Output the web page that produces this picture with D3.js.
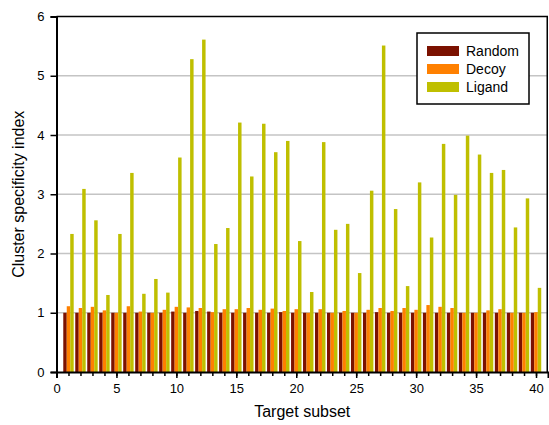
<!DOCTYPE html>
<html>
<head>
<meta charset="utf-8">
<script src="https://cdn.jsdelivr.net/npm/d3@7"></script>
<style>
  html, body { margin: 0; padding: 0; background: #fff; }
  text { font-family: Arial, "Liberation Sans", sans-serif; }
</style>
</head>
<body>
<div id="chart"></div>
<script>
'use strict';

const subsets = d3.range(1, 41);
const seriesNames = ["Random", "Decoy", "Ligand"];
const seriesColors = ["#7b1100", "#ff8000", "#bfbf00"];

const randomValues = [
    1.00, 1.00, 1.00, 1.00, 1.00, 1.00, 1.00, 1.00, 1.00, 1.02,
    1.00, 1.03, 1.02, 1.00, 1.00, 1.00, 1.00, 1.00, 1.01, 1.00,
    1.00, 1.00, 1.00, 1.00, 1.00, 1.00, 1.01, 1.00, 1.00, 1.00,
    1.00, 1.00, 1.00, 1.00, 1.00, 1.00, 1.00, 1.00, 1.00, 1.00
];
const decoyValues = [
    1.11, 1.08, 1.10, 1.04, 1.00, 1.11, 1.02, 1.00, 1.05, 1.10,
    1.09, 1.08, 1.01, 1.06, 1.06, 1.08, 1.05, 1.07, 1.03, 1.06,
    1.00, 1.06, 1.00, 1.03, 1.00, 1.05, 1.08, 1.03, 1.08, 1.05,
    1.13, 1.10, 1.08, 1.00, 1.00, 1.04, 1.06, 1.00, 1.00, 1.01
];
const ligandValues = [
    2.33, 3.09, 2.56, 1.30, 2.33, 3.36, 1.32, 1.57, 1.34, 3.62,
    5.28, 5.61, 2.16, 2.43, 4.21, 3.30, 4.19, 3.71, 3.90, 2.21,
    1.35, 3.88, 2.40, 2.50, 1.67, 3.06, 5.51, 2.75, 1.45, 3.20,
    2.27, 3.85, 2.99, 3.99, 3.67, 3.36, 3.41, 2.44, 2.93, 1.42
];
const xTicks = [0, 5, 10, 15, 20, 25, 30, 35, 40];
const yTicks = [0, 1, 2, 3, 4, 5, 6];

const width = 549;
const height = 425;
const margin = { top: 16.5, right: 1, bottom: 53, left: 56.5 };

const svg = d3.select("#chart")
    .append("svg")
    .attr("width", width)
    .attr("height", height);

const x = d3.scaleLinear().domain([0, 41]).range([margin.left, width - margin.right]);
const y = d3.scaleLinear().domain([0, 6]).range([height - margin.bottom, margin.top]);

// grid lines
svg.append("g")
    .selectAll("line")
    .data(yTicks.filter(d => d > 0 && d < 6))
    .join("line")
    .attr("x1", margin.left)
    .attr("x2", width - margin.right)
    .attr("y1", d => y(d))
    .attr("y2", d => y(d))
    .attr("stroke", "#c4c4c4")
    .attr("stroke-width", 1.5);

// bars
const allSeries = [randomValues, decoyValues, ligandValues];
const barW = 0.29;
allSeries.forEach((values, s) => {
    svg.append("g")
        .attr("fill", seriesColors[s])
        .selectAll("rect")
        .data(values)
        .join("rect")
        .attr("x", (d, i) => x(subsets[i] - 0.435 + s * barW))
        .attr("width", x(barW) - x(0))
        .attr("y", d => y(d))
        .attr("height", d => y(0) - y(d));
});

// frame top and right
svg.append("path")
    .attr("fill", "none")
    .attr("stroke", "#000")
    .attr("stroke-width", 1.5)
    .attr("d", d3.line()([[margin.left, y(6)], [x(41) - 0.75, y(6)], [x(41) - 0.75, y(0)]]));

// x axis
svg.append("g")
    .attr("transform", `translate(0,${y(0)})`)
    .call(d3.axisBottom(x).tickValues(xTicks).tickSize(6).tickPadding(6).tickFormat(d3.format("d")));
svg.append("g")
    .attr("transform", `translate(0,${y(0)})`)
    .call(d3.axisBottom(x).tickValues(d3.range(0, 41)).tickSize(4).tickFormat(""))
    .call(g => g.select(".domain").remove());

// y axis
svg.append("g")
    .attr("transform", `translate(${margin.left},0)`)
    .call(d3.axisLeft(y).tickValues(yTicks).tickSize(6).tickPadding(6).tickFormat(d3.format("d")));

svg.selectAll(".domain").attr("stroke", "#000").attr("stroke-width", 2);
svg.selectAll(".tick line").attr("stroke", "#000").attr("stroke-width", 1.5);
svg.selectAll(".tick text").attr("font-size", 13).attr("fill", "#000")
    .attr("font-family", "Arial, 'Liberation Sans', sans-serif");

// axis titles
svg.append("text")
    .attr("x", x(20.5))
    .attr("y", 417)
    .attr("text-anchor", "middle")
    .attr("font-size", 16)
    .text("Target subset");

svg.append("text")
    .attr("transform", `translate(24,${y(3)}) rotate(-90)`)
    .attr("text-anchor", "middle")
    .attr("font-size", 16)
    .text("Cluster specificity index");

// legend
const legend = svg.append("g").attr("transform", "translate(417,33)");
legend.append("rect")
    .attr("width", 112)
    .attr("height", 71)
    .attr("fill", "#fff")
    .attr("stroke", "#000")
    .attr("stroke-width", 1.5);
seriesNames.forEach((name, i) => {
    legend.append("rect")
        .attr("x", 10)
        .attr("y", 13 + i * 18)
        .attr("width", 32)
        .attr("height", 10)
        .attr("fill", seriesColors[i]);
    legend.append("text")
        .attr("x", 49)
        .attr("y", 23 + i * 18)
        .attr("font-size", 14)
        .text(name);
});
</script>
</body>
</html>
